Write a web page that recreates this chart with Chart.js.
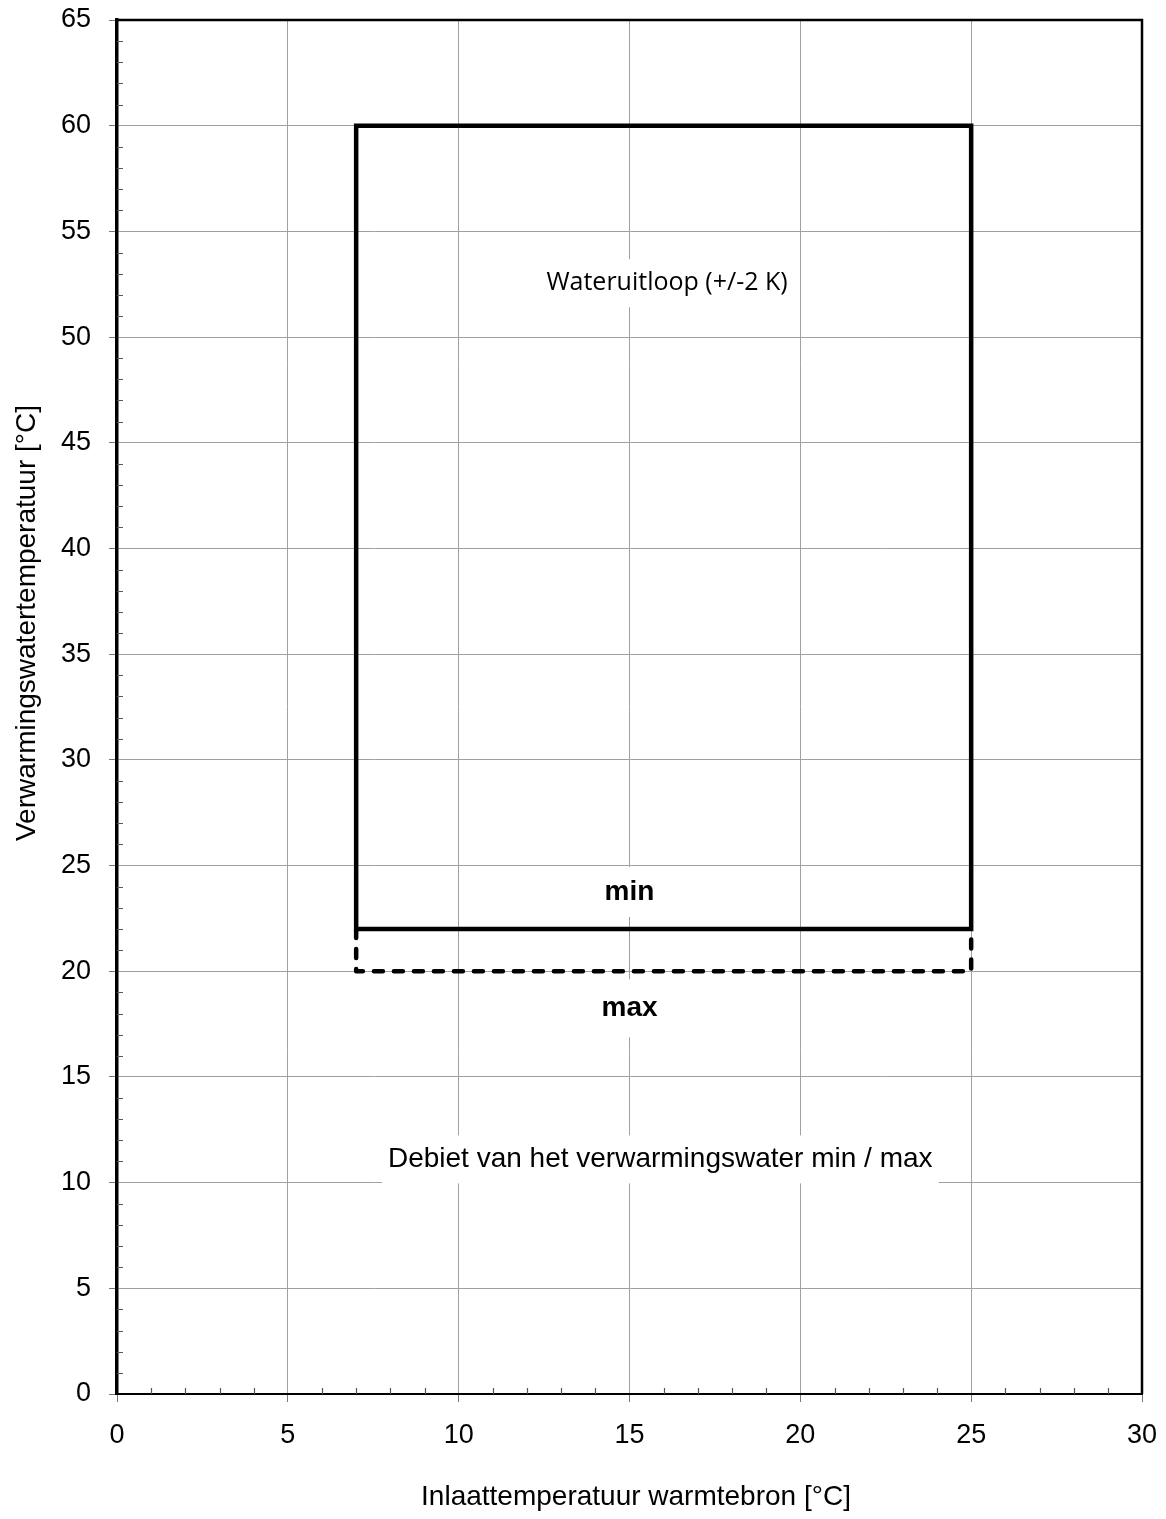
<!DOCTYPE html>
<html>
<head>
<meta charset="utf-8">
<script src="https://cdn.jsdelivr.net/npm/chart.js@4.4.1/dist/chart.umd.min.js"></script>
<style>
  html, body { margin: 0; padding: 0; background: #ffffff; }
  #wrap { width: 1166px; height: 1519px; position: relative; }
</style>
</head>
<body>
<div id="wrap"><canvas id="c" width="1166" height="1519"></canvas></div>
<script>
// ---- data ----
const xTickValues = [0, 5, 10, 15, 20, 25, 30];
const yTickValues = [0, 5, 10, 15, 20, 25, 30, 35, 40, 45, 50, 55, 60, 65];

// solid envelope (min flow)
const solidX = [7, 7, 25, 25, 7];
const solidY = [22, 60, 60, 22, 22];
// dashed extension (max flow)
const dashedX = [7, 7, 25, 25];
const dashedY = [22, 20, 20, 22];

const noteTexts = ['Wateruitloop (+/-2 K)', 'min', 'max', 'Debiet van het verwarmingswater min / max'];
const noteX = [16.1, 15, 15, 15.9];
const noteY = [52.55, 23.75, 18.25, 11.1];

const xTitle = 'Inlaattemperatuur warmtebron [°C]';
const yTitle = 'Verwarmingswatertemperatuur [°C]';

// ---- helpers ----
const toPoints = (xs, ys) => xs.map((x, i) => ({ x: x, y: ys[i] }));

const noteStyles = [
  { font: '25px "Open Sans"', padX: 8, padY: 10 },
  { font: 'bold 28px "Liberation Sans", Arial', padX: 10, padY: 11 },
  { font: 'bold 28px "Liberation Sans", Arial', padX: 10, padY: 15 },
  { font: '28px "Liberation Sans", Arial', padX: 6, padY: 10 }
];

const notesPlugin = {
  id: 'notes',
  beforeDatasetsDraw(chart) {
    const ctx = chart.ctx;
    const xs = chart.scales.x, ys = chart.scales.y;
    ctx.save();
    noteTexts.forEach((t, i) => {
      const st = noteStyles[i];
      ctx.font = st.font;
      const w = ctx.measureText(t).width;
      const px = xs.getPixelForValue(noteX[i]);
      const py = ys.getPixelForValue(noteY[i]);
      const h = 28;
      ctx.fillStyle = '#ffffff';
      ctx.fillRect(px - w / 2 - st.padX, py - h / 2 - st.padY, w + 2 * st.padX, h + 2 * st.padY);
      ctx.fillStyle = '#000000';
      ctx.textAlign = 'center';
      ctx.textBaseline = 'middle';
      ctx.fillText(t, px, py);
    });
    ctx.restore();
  }
};

const framePlugin = {
  id: 'frame',
  afterDatasetsDraw(chart) {
    const ctx = chart.ctx;
    const a = chart.chartArea;
    const xs = chart.scales.x, ys = chart.scales.y;
    ctx.save();
    // top and right frame
    ctx.strokeStyle = '#000000';
    ctx.lineWidth = 2.5;
    ctx.beginPath();
    ctx.moveTo(a.left, a.top);
    ctx.lineTo(a.right, a.top);
    ctx.lineTo(a.right, a.bottom);
    ctx.stroke();
    // minor ticks (every 1 unit, pointing inward)
    ctx.strokeStyle = '#555555';
    ctx.lineWidth = 1.2;
    ctx.beginPath();
    for (let v = xs.min + 1; v < xs.max; v++) {
      if (v % 5 === 0) continue;
      const p = Math.round(xs.getPixelForValue(v)) + 0.5;
      ctx.moveTo(p, a.bottom);
      ctx.lineTo(p, a.bottom - 6);
    }
    for (let v = ys.min + 1; v < ys.max; v++) {
      if (v % 5 === 0) continue;
      const p = Math.round(ys.getPixelForValue(v)) + 0.5;
      ctx.moveTo(a.left, p);
      ctx.lineTo(a.left + 6, p);
    }
    ctx.stroke();
    // axis titles
    ctx.fillStyle = '#000000';
    ctx.font = '28px "Liberation Sans", Arial, sans-serif';
    ctx.textAlign = 'center';
    ctx.textBaseline = 'middle';
    ctx.fillText(xTitle, 636, 1497);
    ctx.translate(27, 623);
    ctx.rotate(-Math.PI / 2);
    ctx.fillText(yTitle, 0, 0);
    ctx.restore();
  }
};

const tickFont = { family: '"Liberation Sans", Arial, sans-serif', size: 27 };

new Chart(document.getElementById('c'), {
  type: 'line',
  data: {
    datasets: [
      {
        label: 'min',
        data: toPoints(solidX, solidY),
        borderColor: '#000000',
        borderWidth: 4.5,
        borderCapStyle: 'square',
        borderJoinStyle: 'miter',
        pointRadius: 0,
        fill: false,
        tension: 0
      },
      {
        label: 'max',
        data: toPoints(dashedX, dashedY),
        borderColor: '#000000',
        borderWidth: 4.5,
        borderDash: [9, 11],
        borderCapStyle: 'round',
        borderJoinStyle: 'round',
        pointRadius: 0,
        fill: false,
        tension: 0
      }
    ]
  },
  options: {
    responsive: false,
    animation: false,
    devicePixelRatio: 1,
    layout: { padding: { top: 20, right: 24, left: 0, bottom: 0 } },
    plugins: {
      legend: { display: false },
      tooltip: { enabled: false },
      title: { display: false }
    },
    scales: {
      x: {
        type: 'linear',
        min: 0,
        max: 30,
        afterBuildTicks: s => { s.ticks = xTickValues.map(v => ({ value: v })); },
        afterFit: s => { s.height = 125; s.paddingLeft = 0; s.paddingRight = 0; },
        ticks: { color: '#000000', font: tickFont, padding: 17, maxRotation: 0 },
        grid: { color: '#a0a0a0', lineWidth: 1, tickLength: 8, tickColor: '#777777', drawTicks: true },
        border: { display: true, color: '#000000', width: 2 },
        title: { display: false }
      },
      y: {
        type: 'linear',
        min: 0,
        max: 65,
        afterBuildTicks: s => { s.ticks = yTickValues.map(v => ({ value: v })); },
        afterFit: s => { s.width = 117; s.paddingTop = 0; s.paddingBottom = 0; },
        ticks: { color: '#000000', font: tickFont, padding: 18 },
        grid: { color: '#a0a0a0', lineWidth: 1, tickLength: 8, tickColor: '#777777', drawTicks: true },
        border: { display: true, color: '#000000', width: 3.5 },
        title: { display: false }
      }
    }
  },
  plugins: [notesPlugin, framePlugin]
});
</script>
</body>
</html>
